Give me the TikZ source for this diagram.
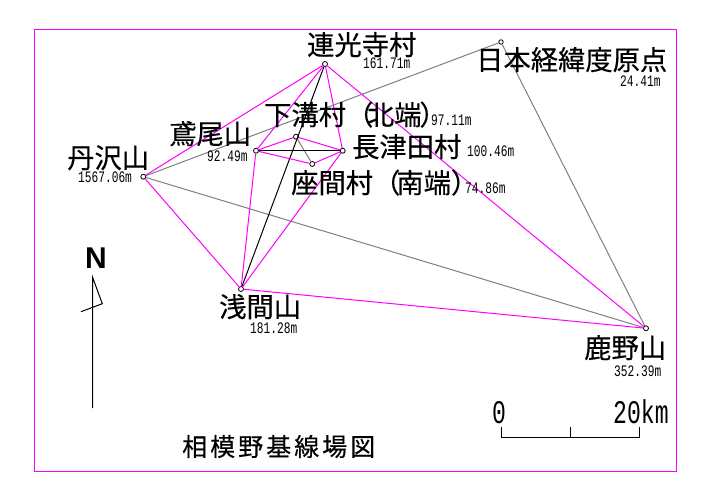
\documentclass[tikz,border=0pt]{standalone}
\usepackage{fontspec}
\newfontfamily\cjk[FakeBold=0.35]{Noto Sans CJK JP}
\newfontfamily\monon[FakeStretch=0.7]{Liberation Mono}
\newfontfamily\monob{Liberation Sans Bold}
\definecolor{mag}{HTML}{FF00FF}
\definecolor{gry}{HTML}{808080}
\tikzset{
  station/.style={circle,draw=black,fill=white,line width=.8pt,inner sep=0pt,minimum size=5pt},
  mline/.style={draw=mag,line width=1pt},
  gline/.style={draw=gry,line width=1pt},
  kline/.style={draw=black,line width=1pt},
  place/.style={anchor=base west,inner sep=0pt,text depth=0pt,font=\cjk\fontsize{27.3}{27}\selectfont},
  elev/.style={anchor=base west,inner sep=0pt,text height=8pt,text depth=0pt,font=\monon\fontsize{16}{16}\selectfont},
  scaletext/.style={anchor=base west,inner sep=0pt,font=\monon\fontsize{33}{33}\selectfont},
}
\begin{document}
\begin{tikzpicture}[x=1pt,y=-1pt]
\useasboundingbox (0,0) rectangle (708,502);
\fill[white] (0,0) rectangle (708,502);
\draw[mag,line width=1pt] (34.5,29.5) rectangle (676.5,471.5);
% stations
\node[station] (renko) at (325,64) {};
\node[station,minimum size=4.5pt] (nihon) at (501,42) {};
\node[station] (shimo) at (296,136.7) {};
\node[station] (tobio) at (256,150.7) {};
\node[station] (naga) at (342.7,150.7) {};
\node[station] (zama) at (312.3,164) {};
\node[station] (tanz) at (143.3,176.7) {};
\node[station] (asama) at (241,289) {};
\node[station] (kano) at (646,328.3) {};
% gray
\draw[gline] (tanz) -- (nihon);
\draw[gline] (tanz) -- (kano);
\draw[gline] (nihon) -- (kano);
\draw[gline] (shimo) -- (zama);
% black
\draw[kline] (renko) -- (asama);
\draw[kline] (tobio) -- (naga);
% magenta
\draw[mline] (tanz) -- (renko);
\draw[mline] (tanz) -- (asama);
\draw[mline] (asama) -- (kano);
\draw[mline] (renko) -- (kano);
\draw[mline] (renko) -- (tobio);
\draw[mline] (renko) -- (naga);
\draw[mline] (tobio) -- (shimo);
\draw[mline] (shimo) -- (naga);
\draw[mline] (tobio) -- (zama);
\draw[mline] (zama) -- (naga);
\draw[mline] (tobio) -- (asama);
\draw[mline] (naga) -- (asama);
% labels
\node[place] (l1) at (307,55) {連光寺村};
\node[elev] (e1) at (363,69) {161.71m};
\node[place] (l2) at (476,70) {日本経緯度原点};
\node[elev] (e2) at (620,87) {24.41m};
\node[place] (l3) at (264,125) {下溝村（\kern-6.5pt 北端\kern-2pt\rlap{）}};
\node[elev] (e3) at (431,126) {97.11m};
\node[place] (l4) at (352,157) {長津田村};
\node[elev] (e4) at (467,157) {100.46m};
\node[place] (l5) at (291,193) {座間村（\kern-4pt 南端\rlap{）}};
\node[elev] (e5) at (465,194) {74.86m};
\node[place] (l6) at (169,144) {鳶尾山};
\node[elev] (e6) at (207,162) {92.49m};
\node[place] (l7) at (67,168) {丹沢山};
\node[elev] (e7) at (78,183) {1567.06m};
\node[place] (l8) at (219,317) {浅間山};
\node[elev] (e8) at (250,333) {181.28m};
\node[place] (l9) at (584,358) {鹿野山};
\node[elev] (e9) at (614,376) {352.39m};
\node[place,font=\cjk\fontsize{25}{25}\selectfont] (title) at (182,456) {\addfontfeature{LetterSpace=12}相模野基線場図};
% north arrow
\node[anchor=base west,inner sep=0pt,font=\monob\fontsize{30}{30}\selectfont] (nmark) at (85,268) {N};
\coordinate (ntop) at (92.5,277);
\coordinate (nbot) at (92.5,408);
\coordinate (nflag) at (102.3,303.7);
\coordinate (nend) at (81,311.7);
\draw[kline] (nbot) -- (ntop) -- (nflag) -- (nend);
% scale
\node[scaletext] (s0) at (492,423) {0};
\node[scaletext] (s20) at (613,423) {20km};
\coordinate (sa) at (501.5,427);
\coordinate (sb) at (501.5,437.5);
\coordinate (sc) at (639.5,437.5);
\coordinate (sd) at (639.5,427);
\coordinate (se) at (570.5,427);
\coordinate (sf) at (570.5,437.5);
\draw[kline] (sa) -- (sb) -- (sc) -- (sd);
\draw[kline] (se) -- (sf);
\end{tikzpicture}
\end{document}
